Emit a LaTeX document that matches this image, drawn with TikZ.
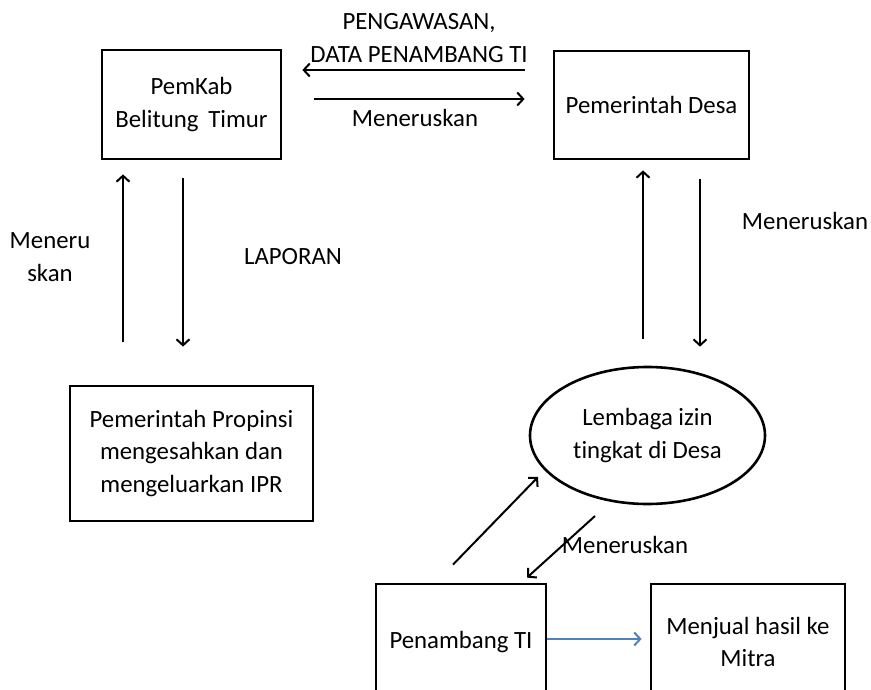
\documentclass[tikz,border=0pt]{standalone}
\usepackage{fontspec}
\setmainfont{Carlito}[Ligatures=NoCommon]
\usetikzlibrary{arrows.meta,shapes.geometric}
\definecolor{flowblue}{RGB}{79,129,189}
\tikzset{
  txt/.style={font=\fontsize{24.8}{32.5}\selectfont},
  box/.style={draw, line width=2.8pt, inner sep=0pt, align=center, txt},
  oval/.style={ellipse, draw, line width=2.6pt, inner sep=0pt, align=center, txt,
    minimum width=235pt, minimum height=137pt},
  lbl/.style={inner sep=0pt, align=center, txt},
  arr/.style={line width=2pt, -{Straight Barb[length=6pt,width=13pt]}},
  bluearr/.style={line width=2pt, flowblue, -{Straight Barb[length=6pt,width=13pt]}}
}
\begin{document}
\begin{tikzpicture}[x=1pt,y=-1pt]
\useasboundingbox (0,0) rectangle (871,690);
\clip (0,0) rectangle (871,690);
\fill[white] (0,0) rectangle (871,690);

\node[box, minimum width=179pt, minimum height=109pt] (pemkab) at (191.5,104.5) {PemKab\\Belitung\, Timur};
\node[box, minimum width=195pt, minimum height=108pt] (desa) at (651.5,105) {Pemerintah Desa};
\node[box, minimum width=243pt, minimum height=135pt] (prop) at (191.5,453.5) {Pemerintah Propinsi\\mengesahkan dan\\mengeluarkan IPR};
\node[oval] (ell) at (647.5,435.5) {Lembaga izin\\tingkat di Desa};
\node[box, minimum width=170pt, minimum height=116pt] (pen) at (461,642) {Penambang TI};
\node[box, minimum width=194pt, minimum height=116pt] (jual) at (748,642) {Menjual hasil ke\\Mitra};

% top horizontal arrows
\draw[arr, shorten <=28pt, shorten >=20pt] ([yshift=35pt]desa.west) -- ([yshift=34.5pt]pemkab.east);
\draw[arr, shorten <=32pt, shorten >=28pt] ([yshift=5.5pt]pemkab.east) -- ([yshift=6pt]desa.west);

% left vertical arrows
\draw[arr, shorten <=43pt, shorten >=14pt] ([xshift=-68.5pt]prop.north) -- ([xshift=-68.5pt]pemkab.south);
\draw[arr, shorten <=18pt, shorten >=38pt] ([xshift=-8.5pt]pemkab.south) -- ([xshift=-8.5pt]prop.north);

% right vertical arrows
\draw[arr, shorten <=27pt, shorten >=10pt] ([xshift=-4.5pt]ell.north) -- ([xshift=-8.5pt]desa.south);
\draw[arr, shorten <=19pt, shorten >=19pt] ([xshift=48.5pt]desa.south) -- ([xshift=52.5pt]ell.north);

% diagonal arrows
\draw[arr] ([xshift=-8pt,yshift=18pt]pen.north) -- ([xshift=-109.5pt,yshift=-41.5pt]ell.center);
\draw[arr] ([xshift=-52.5pt,yshift=-80.5pt]ell.center) -- ([xshift=66pt,yshift=5pt]pen.north);

% blue arrow
\draw[bluearr, shorten >=8pt] ([yshift=3pt]pen.east) -- ([yshift=3pt]jual.west);

% labels
\node[lbl] (l1) at (419,38) {PENGAWASAN,\\DATA PENAMBANG TI};
\node[lbl] (l2) at (415,118) {Meneruskan};
\node[lbl] (l3) at (50,257) {Meneru\\skan};
\node[lbl] (l4) at (293,257) {LAPORAN};
\node[lbl] (l5) at (805,221) {Meneruskan};
\node[lbl] (l6) at (625,545) {Meneruskan};
\end{tikzpicture}
\end{document}
